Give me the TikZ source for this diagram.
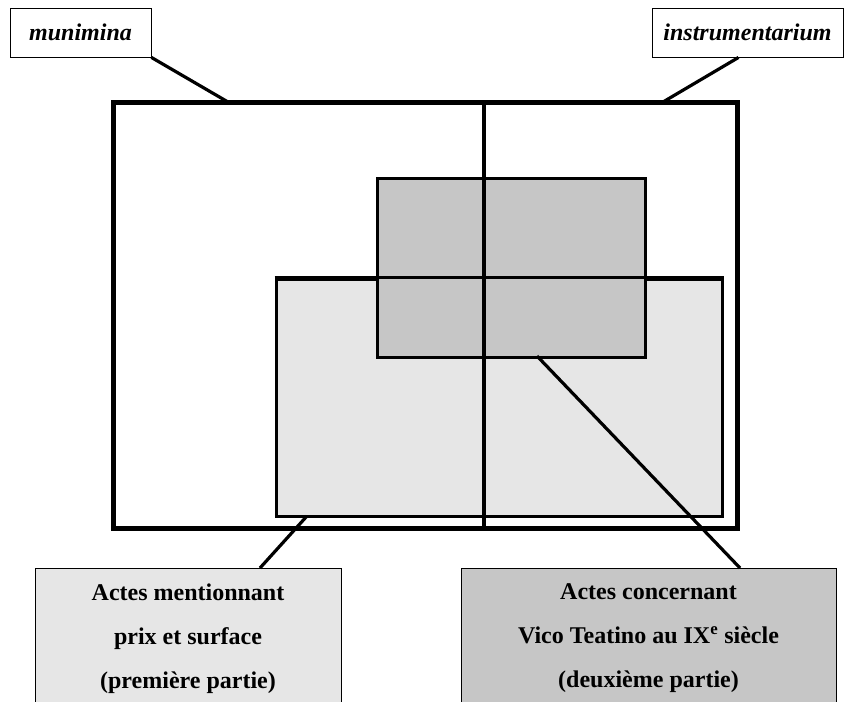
\documentclass[tikz,border=0pt]{standalone}
\usepackage{fontspec}
\setmainfont{Liberation Serif}
\usepackage{tikz}
\definecolor{lightgrey}{RGB}{230,230,230}
\definecolor{darkgrey}{RGB}{198,198,198}

\begin{document}
\begin{tikzpicture}[x=1pt,y=-1pt,
    tag/.style={draw, line width=0.9pt, inner sep=0pt, fill=white,
        font=\fontsize{24}{26}\selectfont\bfseries\itshape},
    legend/.style={draw, line width=0.9pt, inner sep=0pt, anchor=north, align=center,
        font=\fontsize{24}{44}\selectfont\bfseries},
    zone/.style={draw, inner sep=0pt, line width=3pt},
    link/.style={line width=3.2pt}
]
\useasboundingbox (0,0) rectangle (847,702);

% Frame (two halves)
\node[draw, line width=5pt, inner sep=0pt, minimum width=624pt, minimum height=426pt]
    (frame) at (425.5,315) {};

% Zones
\node[zone, fill=lightgrey, minimum width=446pt, minimum height=237pt] (prix) at (499,397.5) {};
\node[zone, fill=darkgrey, minimum width=268pt, minimum height=179pt] (vico) at (511,267.5) {};
\draw[line width=2.6pt] (prix.north west) -- (prix.north east);

% Middle line
\coordinate (mtop) at (484,102);
\coordinate (mbot) at (484,528);
\draw[line width=3.6pt] (mtop) -- (mbot);

% Labels on top
\node[tag, minimum width=141pt, minimum height=49pt] (munimina) at (80.5,32.5) {munimina};
\node[tag, minimum width=191pt, minimum height=49pt] (instr) at (747.5,32.5) {instrumentarium};
\coordinate (fleft) at (228,102);
\coordinate (fright) at (663,102);
\draw[link] (munimina.south east) -- (fleft);
\draw[link] (instr.south) ++(-9,0) coordinate (instrfoot) -- (fright);

% Legends at the bottom
\node[legend, fill=lightgrey, minimum width=306pt, minimum height=140pt] (legprix) at (188,568)
    {Actes mentionnant\\prix et surface\\(premi\`ere partie)};
\node[legend, fill=darkgrey, minimum width=375pt, minimum height=140pt] (legvico) at (648.5,568)
    {Actes concernant\\Vico Teatino au IX\textsuperscript{e} si\`ecle\\(deuxi\`eme partie)};
\coordinate (prixfoot) at (307,516);
\coordinate (vicofoot) at (537,356);
\draw[link] (prixfoot) -- (legprix.north -| 260,0);
\draw[link] (vicofoot) -- (legvico.north -| 740,0);
\end{tikzpicture}
\end{document}
